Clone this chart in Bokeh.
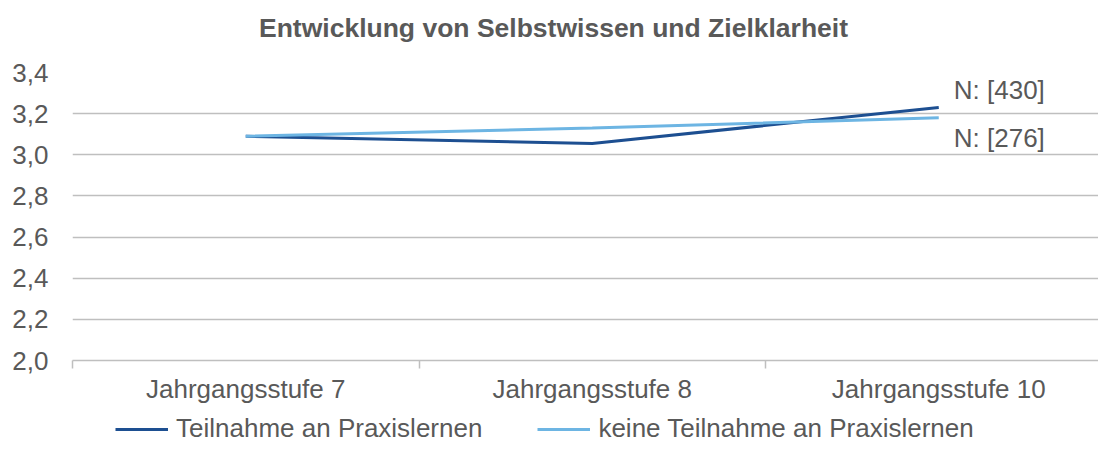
from bokeh.plotting import figure
from bokeh.layouts import column
from bokeh.models import (FixedTicker, CustomJSTickFormatter, Legend, LegendItem,
                          Range1d, Label)
from bokeh.core.properties import value
from bokeh.embed import file_html
from bokeh.resources import INLINE

categories = ["Jahrgangsstufe 7", "Jahrgangsstufe 8", "Jahrgangsstufe 10"]
teilnahme = [3.09, 3.055, 3.23]
keine_teilnahme = [3.09, 3.13, 3.18]
series_names = ["Teilnahme an Praxislernen", "keine Teilnahme an Praxislernen"]
n_labels = ["N: [430]", "N: [276]"]
y_ticks = [2.0, 2.2, 2.4, 2.6, 2.8, 3.0, 3.2, 3.4]
title_text = "Entwicklung von Selbstwissen und Zielklarheit"

DARK = "#1D4F91"
LIGHT = "#6DB5E3"
GRID = "#BFBFBF"
TXT = "#595959"
FONT = "Liberation Sans"
FS = "26px"
W = 1098


def strip(height):
    f = figure(width=W, height=height, output_backend="svg", toolbar_location=None,
               x_range=Range1d(0, 1), y_range=Range1d(0, 1),
               x_axis_location=None, y_axis_location=None,
               min_border_left=0, min_border_right=0, min_border_top=0,
               min_border_bottom=0)
    f.outline_line_color = None
    f.xgrid.visible = False
    f.ygrid.visible = False
    return f


# ---- title strip
top = strip(44)
top.add_layout(Label(x=481, y=17, x_units="screen", y_units="screen", text=title_text,
                     text_align="center", text_baseline="middle",
                     text_font=FONT, text_font_size="26.5px", text_font_style="bold",
                     text_color=TXT))

# ---- main chart
x = list(range(len(categories)))

p = figure(width=W, height=362, output_backend="svg", toolbar_location=None,
           x_range=Range1d(-0.5, 2.461), y_range=Range1d(2.0, 3.4),
           min_border_left=72, min_border_right=0, min_border_top=28,
           min_border_bottom=44)
p.outline_line_color = None
p.background_fill_color = "white"
p.border_fill_color = "white"

p.line(x, teilnahme, line_color=DARK, line_width=3)
p.line(x, keine_teilnahme, line_color=LIGHT, line_width=3)

# end labels
p.text(x=[x[-1], x[-1]], y=[teilnahme[-1], keine_teilnahme[-1]], text=n_labels,
       x_offset=15, y_offset=[-17, 20], text_baseline="middle", text_align="left",
       text_font=value(FONT), text_font_size=FS, text_color=TXT)

# y axis
p.yaxis.ticker = FixedTicker(ticks=y_ticks)
p.yaxis.formatter = CustomJSTickFormatter(code="return tick.toFixed(1).replace('.', ',');")
p.yaxis.axis_line_color = None
p.yaxis.major_tick_line_color = None
p.yaxis.minor_tick_line_color = None
p.yaxis.major_tick_out = 0
p.yaxis.major_tick_in = 0
p.yaxis.major_label_standoff = 24
p.yaxis.major_label_text_font = FONT
p.yaxis.major_label_text_font_size = FS
p.yaxis.major_label_text_color = TXT

# x axis
p.xaxis.ticker = FixedTicker(ticks=x, minor_ticks=[-0.5, 0.5, 1.5, 2.5])
p.xaxis.major_label_overrides = {i: c for i, c in zip(x, categories)}
p.xaxis.axis_line_color = GRID
p.xaxis.axis_line_width = 1.5
p.xaxis.major_tick_line_color = None
p.xaxis.major_tick_out = 0
p.xaxis.major_tick_in = 0
p.xaxis.minor_tick_line_color = GRID
p.xaxis.minor_tick_line_width = 1.5
p.xaxis.minor_tick_out = 8
p.xaxis.minor_tick_in = 0
p.xaxis.major_label_standoff = 5
p.xaxis.major_label_text_font = FONT
p.xaxis.major_label_text_font_size = FS
p.xaxis.major_label_text_color = TXT

p.xgrid.grid_line_color = None
p.ygrid.ticker = FixedTicker(ticks=y_ticks)
p.ygrid.grid_line_color = GRID
p.ygrid.grid_line_width = 1.5

# ---- legend strip
leg = strip(38)
lr1 = leg.line(x, teilnahme, line_color=DARK, line_width=3)
lr2 = leg.line(x, keine_teilnahme, line_color=LIGHT, line_width=3)

legend = Legend(items=[LegendItem(label=series_names[0], renderers=[lr1]),
                       LegendItem(label=series_names[1], renderers=[lr2])],
                orientation="horizontal", location=(43, 0),
                glyph_width=53, glyph_height=30, label_height=30,
                label_standoff=8, spacing=55, padding=0, margin=0,
                label_text_font=FONT, label_text_font_size=FS,
                label_text_color=TXT, border_line_color=None,
                background_fill_alpha=0)
leg.add_layout(legend, "center")

layout = column(top, p, leg, spacing=0)
open("out.html", "w").write(file_html(layout, INLINE))
